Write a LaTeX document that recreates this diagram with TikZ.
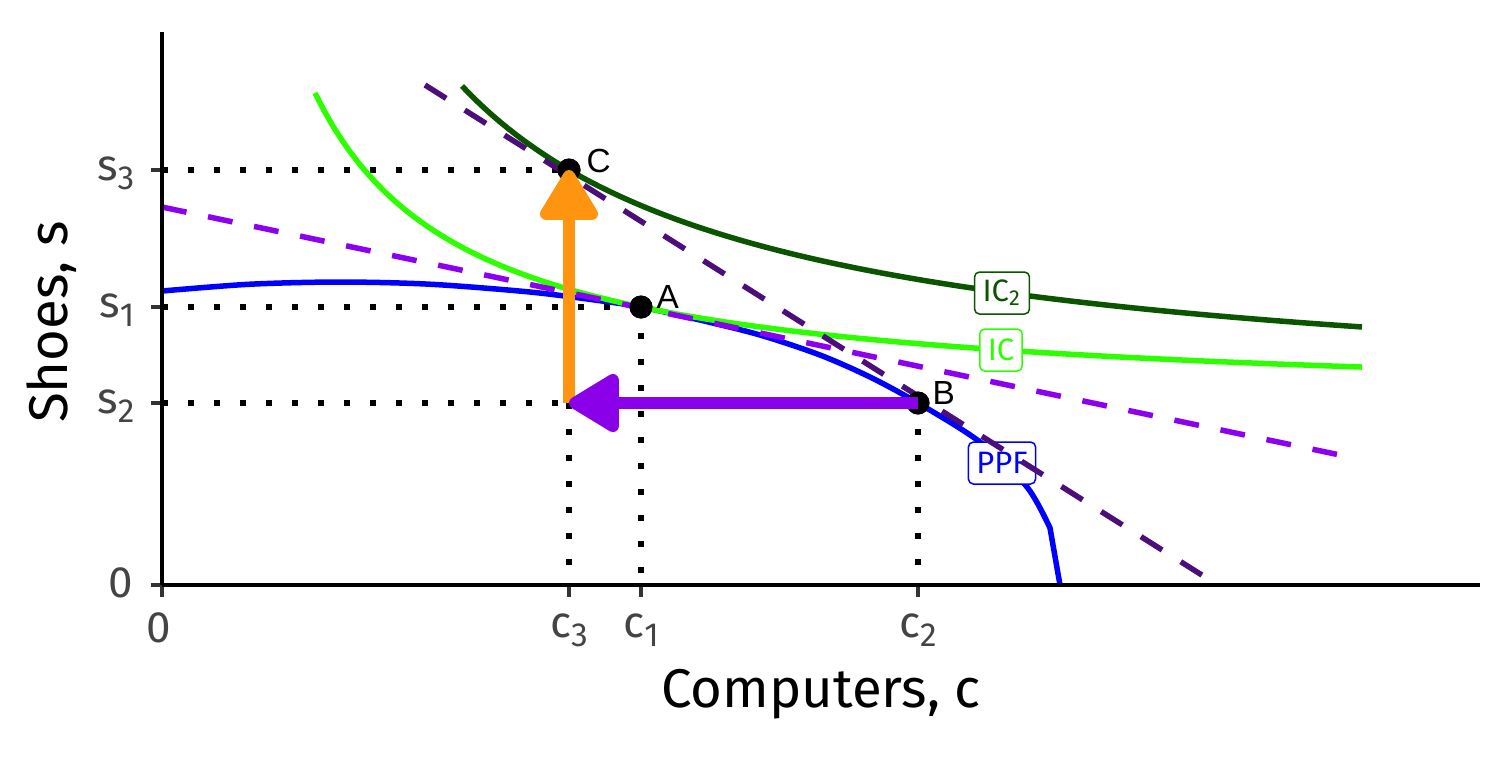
\documentclass[tikz,border=0pt]{standalone}
\usepackage{fontspec}
\setmainfont{Fira Sans}
\newfontfamily\arialfont{Liberation Sans}
\usetikzlibrary{arrows.meta}

\definecolor{ppfblue}{HTML}{0000FF}
\definecolor{icgreen}{HTML}{2EFF00}
\definecolor{ictwogreen}{HTML}{0B5500}
\definecolor{budgetlight}{HTML}{8C00F0}
\definecolor{budgetdark}{HTML}{4B0E7A}
\definecolor{arroworange}{HTML}{FF9410}
\definecolor{arrowpurple}{HTML}{8A00E8}
\definecolor{tickgrey}{HTML}{333333}
\definecolor{labelgrey}{HTML}{444444}

% pedice abbassato per le etichette degli assi
\newcommand{\lowidx}[1]{\raisebox{-0.09cm}{\fontsize{9.5}{9.5}\selectfont #1}}

\begin{document}
\begin{tikzpicture}[
        x=0.01cm, y=-0.01cm,
        asse/.style={line width=0.04cm, black},
        tacca/.style={line width=0.04cm, tickgrey},
        punteggiata/.style={line width=0.06cm, black, dash pattern=on 0.06cm off 0.2cm},
        curva/.style={line width=0.055cm},
        retta/.style={line width=0.055cm, dash pattern=on 0.25cm off 0.22cm},
        punto/.style={circle, fill=black, inner sep=0pt, minimum size=0.23cm},
        lettera/.style={font=\arialfont\fontsize{9.5}{10}\selectfont, inner sep=0pt},
        numlbl/.style={font=\fontsize{12.5}{13}\selectfont, text=labelgrey, inner sep=0pt},
        titolo/.style={font=\fontsize{15.5}{16}\selectfont, inner sep=0pt},
        etichetta/.style={
            rounded corners=0.05cm,
            fill=white,
            line width=0.015cm,
            minimum height=0.42cm,
            inner xsep=0.08cm,
            inner ysep=0pt,
            font=\fontsize{8.8}{9}\selectfont
        },
        freccia/.style={line width=0.12cm, -{Triangle[round, length=0.56cm, width=0.64cm]}}
    ]
        \useasboundingbox (0,0) rectangle (1512,756);

        % Punti base sugli assi
        \coordinate (O) at (162,585);
        \coordinate (ytop) at (162,32);
        \coordinate (xend) at (1480,585);
        \coordinate (ys3) at (162,170);
        \coordinate (ys1) at (162,307);
        \coordinate (ys2) at (162,403);
        \coordinate (xc3) at (569,585);
        \coordinate (xc1) at (641,585);
        \coordinate (xc2) at (918,585);
        \coordinate (P3) at (569,403);

        % Punti A, B, C
        \node[punto] (A) at (641,307) {};
        \node[punto] (B) at (918,403) {};
        \node[punto] (C) at (569,170) {};

        % Linee tratteggiate verso gli assi
        \draw[punteggiata] (ys3) -- (C.center);
        \draw[punteggiata] (ys1) -- (A.center);
        \draw[punteggiata] (ys2) -- (B.center);
        \draw[punteggiata] (P3) -- (xc3);
        \draw[punteggiata] (A.center) -- (xc1);
        \draw[punteggiata] (B.center) -- (xc2);

        % Frontiera e curve di indifferenza
        \draw[curva, ppfblue] plot[smooth, tension=0.5] coordinates {
            (162,291) (250,284.2) (340,282) (430,284.2) (530,292) (600,300.7)
            (641,307) (700,320) (760,335) (820,355) (870,377) (918,403)
            (980,442) (1027,487) (1050,528)} -- (1060,585);
        \draw[curva, icgreen] plot[domain=315:1362, samples=120]
            (\x, {406.8 - 477.06/((\x-163)/100)});
        \draw[curva, ictwogreen] plot[domain=462:1362, samples=120]
            (\x, {408.2 - 977.9/((\x-158.5)/100)});

        \node[etichetta, draw=ictwogreen, text=ictwogreen] (lic2) at (1002,293) {IC\textsubscript{2}};
        \node[etichetta, draw=icgreen, text=icgreen] (lic) at (1001,350) {IC};
        \node[etichetta, draw=ppfblue, text=ppfblue] (lppf) at (1002,463) {PPF};

        % Rette di bilancio
        \coordinate (bl1) at (162,207);
        \coordinate (bl2) at (1340,455);
        \coordinate (bd1) at (425,85);
        \coordinate (bd2) at (1205,577);
        \draw[retta, budgetlight] (bl1) -- (bl2);
        \draw[retta, budgetdark] (bd1) -- (bd2);

        % Punti di nuovo sopra le rette
        \fill (A) circle (0.115cm);
        \fill (B) circle (0.115cm);
        \fill (C) circle (0.115cm);
        \node[lettera, anchor=base west] (lA) at (656,308) {A};
        \node[lettera, anchor=base west] (lB) at (932,404) {B};
        \node[lettera, anchor=base west] (lC) at (586,172) {C};

        % Frecce
        \draw[freccia, arroworange] (P3) -- (C.center);
        \draw[freccia, arrowpurple] (B.center) -- (P3);

        % Assi e tacche
        \foreach \p in {ys3, ys1, ys2, O} {
            \draw[tacca] (\p) -- ++(-11,0);
        }
        \foreach \p in {O, xc3, xc1, xc2} {
            \draw[tacca] (\p) -- ++(0,12);
        }
        \draw[asse] (O) -- (ytop);
        \draw[asse] (O) -- (xend);

        % Etichette delle tacche
        \node[numlbl, anchor=base east] (ls3) at (135,180) {s\lowidx{3}};
        \node[numlbl, anchor=base east] (ls1) at (135,317) {s\lowidx{1}};
        \node[numlbl, anchor=base east] (ls2) at (135,413) {s\lowidx{2}};
        \node[numlbl, anchor=base east] (ly0) at (134,597) {0};
        \node[numlbl, anchor=base] (lx0) at (159,642) {0};
        \node[numlbl, anchor=base] (lc3) at (569,637) {c\lowidx{3}};
        \node[numlbl, anchor=base] (lc1) at (641,637) {c\lowidx{1}};
        \node[numlbl, anchor=base] (lc2) at (918,637) {c\lowidx{2}};

        % Titoli degli assi
        \node[titolo] (tx) at (821,694) {Computers, c};
        \node[titolo, rotate=90] (ty) at (52,322) {Shoes, s};
    \end{tikzpicture}
\end{document}
